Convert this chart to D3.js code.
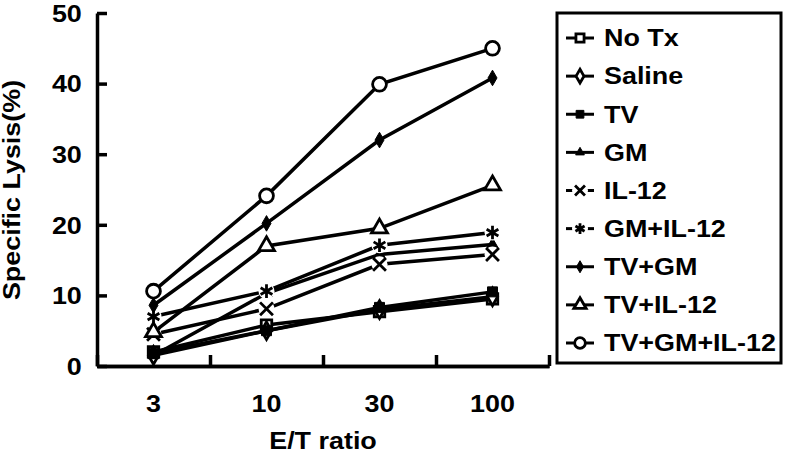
<!DOCTYPE html>
<html>
<head>
<meta charset="utf-8">
<script src="https://cdn.jsdelivr.net/npm/d3@7"></script>
<style>
  body { margin: 0; background: #fff; }
  text { font-family: "Liberation Sans", Arial, sans-serif; fill: #000; font-weight: bold; }
</style>
</head>
<body>
<div id="chart"></div>
<script>
// E/T ratios on the x axis
const ratios = ['3', '10', '30', '100'];
const yTicks = [0, 10, 20, 30, 40, 50];

// Specific lysis (%) per group
const noTx = [2.0, 5.8, 7.7, 9.5];
const saline = [1.5, 5.0, 8.0, 9.8];
const tv = [1.8, 5.0, 8.3, 10.5];
const gm = [1.5, 10.3, 15.8, 17.2];
const il12 = [4.5, 8.1, 14.4, 15.8];
const gmIl12 = [7.0, 10.6, 17.1, 18.9];
const tvGm = [8.6, 20.2, 32.0, 40.8];
const tvIl12 = [4.8, 17.0, 19.5, 25.6];
const tvGmIl12 = [10.6, 24.1, 39.9, 45.0];

const seriesNames = ['No Tx', 'Saline', 'TV', 'GM', 'IL-12', 'GM+IL-12', 'TV+GM', 'TV+IL-12', 'TV+GM+IL-12'];
const seriesValues = [noTx, saline, tv, gm, il12, gmIl12, tvGm, tvIl12, tvGmIl12];

// marker style for each series
const markers = [
  {type: d3.symbolSquare, size: 110, fill: '#fff'},
  {type: d3.symbolDiamond, size: 90, fill: '#fff'},
  {type: d3.symbolSquare, size: 100, fill: '#000'},
  {type: d3.symbolTriangle, size: 55, fill: '#000'},
  {type: d3.symbolX, size: 110, fill: 'none', gap: true},
  {type: d3.symbolAsterisk, size: 130, fill: 'none', gap: true},
  {type: d3.symbolDiamond, size: 70, fill: '#000'},
  {type: d3.symbolTriangle, size: 110, fill: '#fff'},
  {type: d3.symbolCircle, size: 150, fill: '#fff'}
];

const width = 787, height = 455;
const plot = {left: 97, right: 549, top: 13, bottom: 366};
const fontSize = 23;
const stretch = 1.17; // the figure's lettering is wider than Liberation Sans

const svg = d3.select('#chart')
  .append('svg')
  .attr('width', width)
  .attr('height', height);

const x = d3.scaleBand()
  .domain(ratios)
  .range([plot.left, plot.right]);

const y = d3.scaleLinear()
  .domain([0, 50])
  .range([plot.bottom, plot.top]);

const cx = d => x(d) + x.bandwidth() / 2;

// Y axis, ticks pointing inward
const gY = svg.append('g')
  .attr('transform', 'translate(' + plot.left + ',0)')
  .call(d3.axisLeft(y).tickValues(yTicks).tickSizeInner(-10).tickSizeOuter(0).tickPadding(13));

// X axis labels at category centres
const gX = svg.append('g')
  .attr('transform', 'translate(0,' + plot.bottom + ')')
  .call(d3.axisBottom(x).tickSize(0).tickPadding(30));

// X axis boundary ticks between categories
const gXb = svg.append('g')
  .attr('transform', 'translate(0,' + plot.bottom + ')')
  .call(d3.axisBottom(d3.scaleLinear().domain([0, ratios.length]).range([plot.left, plot.right]))
    .ticks(ratios.length).tickFormat('').tickSizeInner(-11).tickSizeOuter(0));

[gY, gX, gXb].forEach(g => {
  g.selectAll('path.domain').attr('stroke', '#000').attr('stroke-width', 3.5);
  g.selectAll('.tick line').attr('stroke', '#000').attr('stroke-width', 3.5);
  g.selectAll('.tick text')
    .style('font-size', fontSize + 'px')
    .style('font-family', '"Liberation Sans", Arial, sans-serif')
    .style('font-weight', 'bold')
    .attr('fill', '#000')
    .attr('transform', 'scale(' + stretch + ',1)');
});
gY.selectAll('.tick text').attr('dy', '0.36em');
gX.selectAll('.tick text').attr('dy', '0.71em');

// Axis titles
svg.append('text')
  .attr('transform', 'translate(323,449) scale(' + stretch + ',1)')
  .attr('text-anchor', 'middle')
  .style('font-size', fontSize + 'px')
  .text('E/T ratio');

svg.append('text')
  .attr('transform', 'translate(20,190) rotate(-90) scale(' + stretch + ',1)')
  .attr('text-anchor', 'middle')
  .style('font-size', fontSize + 'px')
  .text('Specific Lysis(%)');

const line = d3.line()
  .x((d, i) => cx(ratios[i]))
  .y(d => y(d));

// lines first
svg.append('g')
  .selectAll('path')
  .data(seriesValues)
  .enter()
  .append('path')
  .attr('d', d => line(d))
  .attr('fill', 'none')
  .attr('stroke', '#000')
  .attr('stroke-width', 3.5);

// then markers
function drawMarker(g, m, px, py) {
  if (m.gap) {
    g.append('circle')
      .attr('cx', px).attr('cy', py).attr('r', 8)
      .attr('fill', '#fff');
  }
  g.append('path')
    .attr('transform', 'translate(' + px + ',' + py + ')')
    .attr('d', d3.symbol().type(m.type).size(m.size)())
    .attr('fill', m.fill)
    .attr('stroke', '#000')
    .attr('stroke-width', m.fill === '#000' ? 1 : 2.8);
}

seriesValues.forEach((vals, s) => {
  const g = svg.append('g').attr('class', 'series-markers');
  vals.forEach((v, i) => drawMarker(g, markers[s], cx(ratios[i]), y(v)));
});

// Legend
const legend = {left: 557, top: 13, right: 781, bottom: 363};
svg.append('rect')
  .attr('x', legend.left)
  .attr('y', legend.top)
  .attr('width', legend.right - legend.left)
  .attr('height', legend.bottom - legend.top)
  .attr('fill', '#fff')
  .attr('stroke', '#000')
  .attr('stroke-width', 3);

const ly = d3.scalePoint()
  .domain(seriesNames)
  .range([38, 343]);

seriesNames.forEach((name, s) => {
  const g = svg.append('g');
  const yy = ly(name);
  g.append('line')
    .attr('x1', 566).attr('x2', 594)
    .attr('y1', yy).attr('y2', yy)
    .attr('stroke', '#000')
    .attr('stroke-width', 3);
  drawMarker(g, Object.assign({}, markers[s], {size: markers[s].size * 0.6}), 580, yy);
  g.append('text')
    .attr('transform', 'translate(604,' + yy + ') scale(' + stretch + ',1)')
    .attr('dy', '0.36em')
    .style('font-size', fontSize + 'px')
    .text(name);
});
</script>
</body>
</html>
